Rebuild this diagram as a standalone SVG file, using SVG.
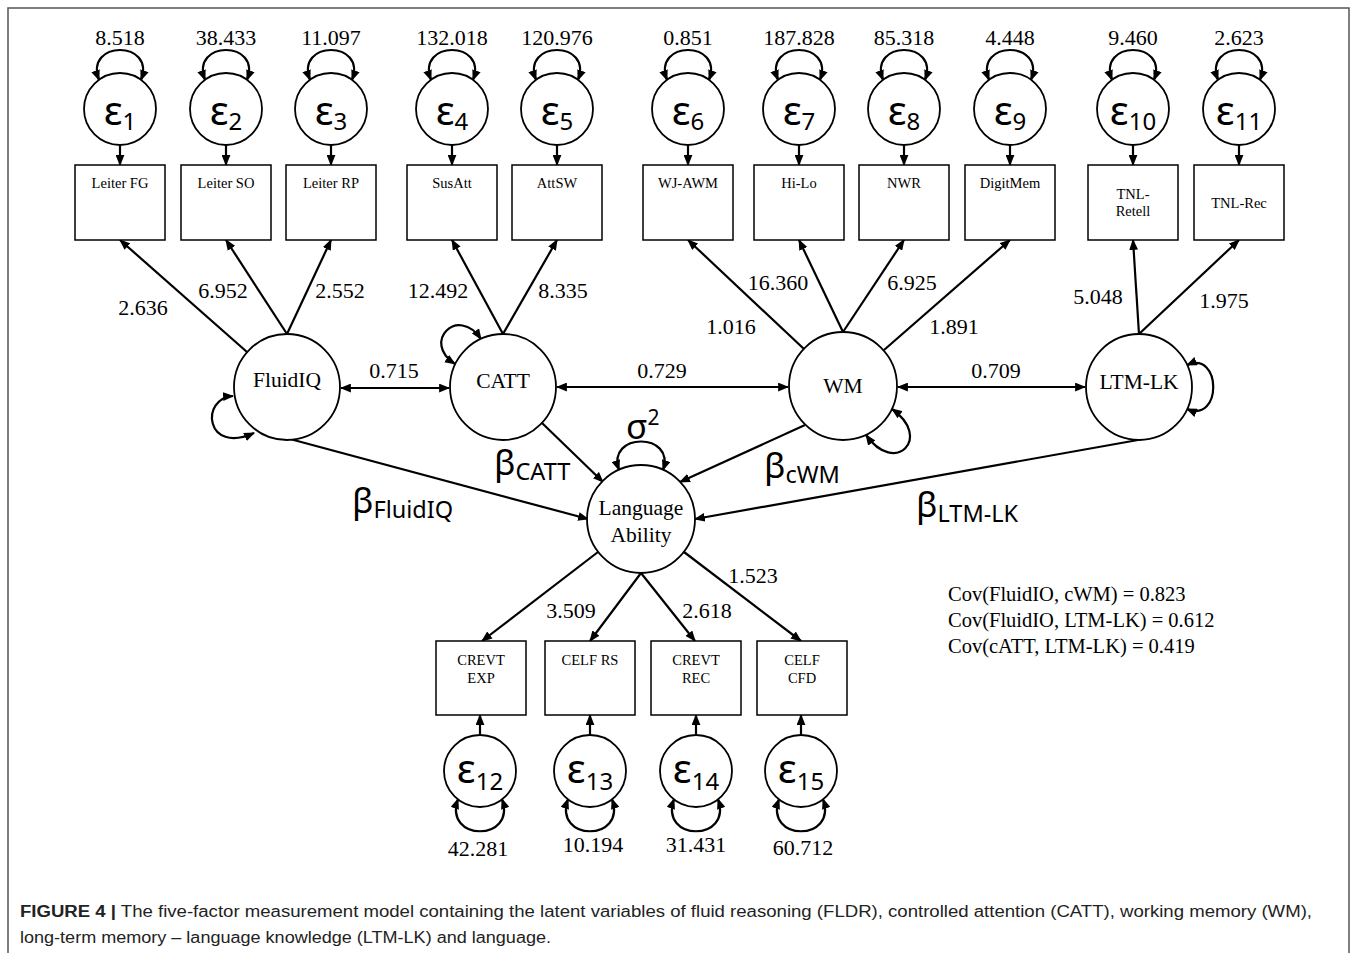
<svg xmlns="http://www.w3.org/2000/svg" width="1357" height="953" viewBox="0 0 1357 953">
<defs>
<marker id="ah" viewBox="0 0 10 8" refX="9" refY="4" markerWidth="11" markerHeight="9" orient="auto-start-reverse" markerUnits="userSpaceOnUse"><path d="M0,0 L10,4 L0,8 z" fill="#000"/></marker>
</defs>
<style>
.frame{fill:none;stroke:#555;stroke-width:1.5}
.c{fill:#fff;stroke:#000;stroke-width:1.8}
.b{fill:#fff;stroke:#000;stroke-width:1.5}
.ln{fill:none;stroke:#000;stroke-width:2.2}
.a1{marker-end:url(#ah)}
.a2{marker-start:url(#ah);marker-end:url(#ah)}
.num{font-family:"Liberation Serif",serif;font-size:22px;fill:#000;text-anchor:middle}
.bl{font-family:"Liberation Serif",serif;font-size:14.5px;fill:#000;text-anchor:middle}
.lv{font-family:"Liberation Serif",serif;font-size:21.5px;fill:#000;text-anchor:middle}
.eps{font-family:"Noto Sans","DejaVu Sans",sans-serif;font-size:40px;fill:#000;text-anchor:middle}
.sub{font-size:24px}
.beta{font-family:"Noto Sans","DejaVu Sans",sans-serif;font-size:35px;fill:#000}
.bsub{font-size:23.5px}
.cov{font-family:"Liberation Serif",serif;font-size:20.5px;fill:#000}
.cap{font-family:"Liberation Sans",Arial,sans-serif;font-size:16px;fill:#222}
</style>
<rect x="0" y="0" width="1357" height="953" fill="#fff"/>
<path class="frame" d="M8 953 L8 8 L1349 8 L1349 953"/>

<g id="connectors">
<path class="ln a2" d="M 99 80 C 84 40, 156 40, 141 80"/>
<path class="ln a2" d="M 205 80 C 190 40, 262 40, 247 80"/>
<path class="ln a2" d="M 310 80 C 295 40, 367 40, 352 80"/>
<path class="ln a2" d="M 431 80 C 416 40, 488 40, 473 80"/>
<path class="ln a2" d="M 536 80 C 521 40, 593 40, 578 80"/>
<path class="ln a2" d="M 667 80 C 652 40, 724 40, 709 80"/>
<path class="ln a2" d="M 778 80 C 763 40, 835 40, 820 80"/>
<path class="ln a2" d="M 883 80 C 868 40, 940 40, 925 80"/>
<path class="ln a2" d="M 989 80 C 974 40, 1046 40, 1031 80"/>
<path class="ln a2" d="M 1112 80 C 1097 40, 1169 40, 1154 80"/>
<path class="ln a2" d="M 1218 80 C 1203 40, 1275 40, 1260 80"/>
<path class="ln a1" d="M120 145 L120 165"/>
<path class="ln a1" d="M226 145 L226 165"/>
<path class="ln a1" d="M331 145 L331 165"/>
<path class="ln a1" d="M452 145 L452 165"/>
<path class="ln a1" d="M557 145 L557 165"/>
<path class="ln a1" d="M688 145 L688 165"/>
<path class="ln a1" d="M799 145 L799 165"/>
<path class="ln a1" d="M904 145 L904 165"/>
<path class="ln a1" d="M1010 145 L1010 165"/>
<path class="ln a1" d="M1133 145 L1133 165"/>
<path class="ln a1" d="M1239 145 L1239 165"/>
<path class="ln a1" d="M 247 352 L 120 240"/>
<path class="ln a1" d="M 287 334 L 226 240"/>
<path class="ln a1" d="M 287 334 L 331 240"/>
<path class="ln a1" d="M 503 334 L 452 240"/>
<path class="ln a1" d="M 503 334 L 557 240"/>
<path class="ln a1" d="M 804 349 L 688 240"/>
<path class="ln a1" d="M 843 332 L 799 240"/>
<path class="ln a1" d="M 843 332 L 904 240"/>
<path class="ln a1" d="M 884 350 L 1010 240"/>
<path class="ln a1" d="M 1139 334 L 1133 240"/>
<path class="ln a1" d="M 1139 334 L 1239 240"/>
<path class="ln a2" d="M 341 388 L 449 388"/>
<path class="ln a2" d="M 557 387 L 788 387"/>
<path class="ln a2" d="M 898 387 L 1085 387"/>
<path class="ln a2" d="M 233 396 C 200 398, 205 455, 254 433"/>
<path class="ln a2" d="M 481 339 C 458 305, 421 342, 455 364"/>
<path class="ln a2" d="M 892 409 C 933 438, 895 476, 866 435"/>
<path class="ln a2" d="M 1187 365 C 1222 350, 1222 424, 1187 409"/>
<path class="ln a2" d="M 619 470 C 606 432, 676 432, 663 470"/>
<path class="ln a1" d="M 290 439 L 588 519"/>
<path class="ln a1" d="M 542 423 L 603 482"/>
<path class="ln a1" d="M 805 425 L 680 482"/>
<path class="ln a1" d="M 1138 440 L 695 519"/>
<path class="ln a1" d="M 598 552 L 482 641"/>
<path class="ln a1" d="M 641 573 L 590 641"/>
<path class="ln a1" d="M 641 573 L 695 641"/>
<path class="ln a1" d="M 684 552 L 801 641"/>
<path class="ln a1" d="M480 735 L480 715"/>
<path class="ln a1" d="M590 735 L590 715"/>
<path class="ln a1" d="M696 735 L696 715"/>
<path class="ln a1" d="M801 735 L801 715"/>
<path class="ln a2" d="M 458 799 C 443 842, 517 842, 502 799"/>
<path class="ln a2" d="M 568 799 C 553 842, 627 842, 612 799"/>
<path class="ln a2" d="M 674 799 C 659 842, 733 842, 718 799"/>
<path class="ln a2" d="M 779 799 C 764 842, 838 842, 823 799"/>
</g>

<g id="connector-labels">
<text class="num" x="143" y="315">2.636</text>
<text class="num" x="223" y="298">6.952</text>
<text class="num" x="340" y="298">2.552</text>
<text class="num" x="438" y="298">12.492</text>
<text class="num" x="563" y="298">8.335</text>
<text class="num" x="778" y="290">16.360</text>
<text class="num" x="912" y="290">6.925</text>
<text class="num" x="731" y="334">1.016</text>
<text class="num" x="954" y="334">1.891</text>
<text class="num" x="1098" y="304">5.048</text>
<text class="num" x="1224" y="308">1.975</text>
<text class="num" x="394" y="378">0.715</text>
<text class="num" x="662" y="378">0.729</text>
<text class="num" x="996" y="378">0.709</text>
<text class="num" x="571" y="618">3.509</text>
<text class="num" x="707" y="618">2.618</text>
<text class="num" x="753" y="583">1.523</text>
<text class="beta" x="352" y="513">β<tspan class="bsub" dy="5">FluidIQ</tspan></text>
<text class="beta" x="494" y="475">β<tspan class="bsub" dy="5">CATT</tspan></text>
<text class="beta" x="764" y="478">β<tspan class="bsub" dy="5">cWM</tspan></text>
<text class="beta" x="916" y="517">β<tspan class="bsub" dy="5">LTM-LK</tspan></text>
<text class="beta" x="626" y="439" font-size="33">σ<tspan font-size="21" dy="-14">2</tspan></text>
</g>

<g id="e1"><text class="num" x="120" y="45">8.518</text><circle class="c" cx="120" cy="109" r="36"/><text class="eps" x="120" y="125">ε<tspan class="sub" dy="5">1</tspan></text></g>
<g id="e2"><text class="num" x="226" y="45">38.433</text><circle class="c" cx="226" cy="109" r="36"/><text class="eps" x="226" y="125">ε<tspan class="sub" dy="5">2</tspan></text></g>
<g id="e3"><text class="num" x="331" y="45">11.097</text><circle class="c" cx="331" cy="109" r="36"/><text class="eps" x="331" y="125">ε<tspan class="sub" dy="5">3</tspan></text></g>
<g id="e4"><text class="num" x="452" y="45">132.018</text><circle class="c" cx="452" cy="109" r="36"/><text class="eps" x="452" y="125">ε<tspan class="sub" dy="5">4</tspan></text></g>
<g id="e5"><text class="num" x="557" y="45">120.976</text><circle class="c" cx="557" cy="109" r="36"/><text class="eps" x="557" y="125">ε<tspan class="sub" dy="5">5</tspan></text></g>
<g id="e6"><text class="num" x="688" y="45">0.851</text><circle class="c" cx="688" cy="109" r="36"/><text class="eps" x="688" y="125">ε<tspan class="sub" dy="5">6</tspan></text></g>
<g id="e7"><text class="num" x="799" y="45">187.828</text><circle class="c" cx="799" cy="109" r="36"/><text class="eps" x="799" y="125">ε<tspan class="sub" dy="5">7</tspan></text></g>
<g id="e8"><text class="num" x="904" y="45">85.318</text><circle class="c" cx="904" cy="109" r="36"/><text class="eps" x="904" y="125">ε<tspan class="sub" dy="5">8</tspan></text></g>
<g id="e9"><text class="num" x="1010" y="45">4.448</text><circle class="c" cx="1010" cy="109" r="36"/><text class="eps" x="1010" y="125">ε<tspan class="sub" dy="5">9</tspan></text></g>
<g id="e10"><text class="num" x="1133" y="45">9.460</text><circle class="c" cx="1133" cy="109" r="36"/><text class="eps" x="1133" y="125">ε<tspan class="sub" dy="5">10</tspan></text></g>
<g id="e11"><text class="num" x="1239" y="45">2.623</text><circle class="c" cx="1239" cy="109" r="36"/><text class="eps" x="1239" y="125">ε<tspan class="sub" dy="5">11</tspan></text></g>

<g id="leiterFG"><rect class="b" x="75" y="165" width="90" height="75"/><text class="bl" x="120" y="188">Leiter FG</text></g>
<g id="leiterSO"><rect class="b" x="181" y="165" width="90" height="75"/><text class="bl" x="226" y="188">Leiter SO</text></g>
<g id="leiterRP"><rect class="b" x="286" y="165" width="90" height="75"/><text class="bl" x="331" y="188">Leiter RP</text></g>
<g id="susatt"><rect class="b" x="407" y="165" width="90" height="75"/><text class="bl" x="452" y="188">SusAtt</text></g>
<g id="attsw"><rect class="b" x="512" y="165" width="90" height="75"/><text class="bl" x="557" y="188">AttSW</text></g>
<g id="wjawm"><rect class="b" x="643" y="165" width="90" height="75"/><text class="bl" x="688" y="188">WJ-AWM</text></g>
<g id="hilo"><rect class="b" x="754" y="165" width="90" height="75"/><text class="bl" x="799" y="188">Hi-Lo</text></g>
<g id="nwr"><rect class="b" x="859" y="165" width="90" height="75"/><text class="bl" x="904" y="188">NWR</text></g>
<g id="digitmem"><rect class="b" x="965" y="165" width="90" height="75"/><text class="bl" x="1010" y="188">DigitMem</text></g>
<g id="tnlretell"><rect class="b" x="1088" y="165" width="90" height="75"/><text class="bl" x="1133" y="199">TNL-</text><text class="bl" x="1133" y="216">Retell</text></g>
<g id="tnlrec"><rect class="b" x="1194" y="165" width="90" height="75"/><text class="bl" x="1239" y="208">TNL-Rec</text></g>

<g id="fluidiq"><circle class="c" cx="287" cy="387" r="53"/><text class="lv" x="287" y="387">FluidIQ</text></g>
<g id="catt"><circle class="c" cx="503" cy="387" r="53"/><text class="lv" x="503" y="388">CATT</text></g>
<g id="wm"><circle class="c" cx="843" cy="386" r="54"/><text class="lv" x="843" y="393">WM</text></g>
<g id="ltmlk"><circle class="c" cx="1139" cy="387" r="53"/><text class="lv" x="1139" y="389">LTM-LK</text></g>
<g id="language"><circle class="c" cx="641" cy="519" r="54"/><text class="lv" x="641" y="515" font-size="22.5">Language</text><text class="lv" x="641" y="542" font-size="22.5">Ability</text></g>

<g id="crevtexp"><rect class="b" x="436" y="641" width="90" height="74"/><text class="bl" x="481" y="665">CREVT</text><text class="bl" x="481" y="683">EXP</text></g>
<g id="celfrs"><rect class="b" x="545" y="641" width="90" height="74"/><text class="bl" x="590" y="665">CELF RS</text></g>
<g id="crevtrec"><rect class="b" x="651" y="641" width="90" height="74"/><text class="bl" x="696" y="665">CREVT</text><text class="bl" x="696" y="683">REC</text></g>
<g id="celfcfd"><rect class="b" x="757" y="641" width="90" height="74"/><text class="bl" x="802" y="665">CELF</text><text class="bl" x="802" y="683">CFD</text></g>

<g id="e12"><circle class="c" cx="480" cy="771" r="36"/><text class="eps" x="480" y="783">ε<tspan class="sub" dy="7">12</tspan></text><text class="num" x="478" y="856">42.281</text></g>
<g id="e13"><circle class="c" cx="590" cy="771" r="36"/><text class="eps" x="590" y="783">ε<tspan class="sub" dy="7">13</tspan></text><text class="num" x="593" y="852">10.194</text></g>
<g id="e14"><circle class="c" cx="696" cy="771" r="36"/><text class="eps" x="696" y="783">ε<tspan class="sub" dy="7">14</tspan></text><text class="num" x="696" y="852">31.431</text></g>
<g id="e15"><circle class="c" cx="801" cy="771" r="36"/><text class="eps" x="801" y="783">ε<tspan class="sub" dy="7">15</tspan></text><text class="num" x="803" y="855">60.712</text></g>

<g id="covariances">
<text class="cov" x="948" y="601">Cov(FluidIO, cWM) = 0.823</text>
<text class="cov" x="948" y="627">Cov(FluidIO, LTM-LK) = 0.612</text>
<text class="cov" x="948" y="653">Cov(cATT, LTM-LK) = 0.419</text>
</g>

<g id="caption">
<text class="cap" x="20" y="917" textLength="1292" lengthAdjust="spacingAndGlyphs"><tspan font-weight="bold">FIGURE 4 |</tspan> The five-factor measurement model containing the latent variables of fluid reasoning (FLDR), controlled attention (CATT), working memory (WM),</text>
<text class="cap" x="20" y="943" textLength="531" lengthAdjust="spacingAndGlyphs">long-term memory – language knowledge (LTM-LK) and language.</text>
</g>
</svg>
